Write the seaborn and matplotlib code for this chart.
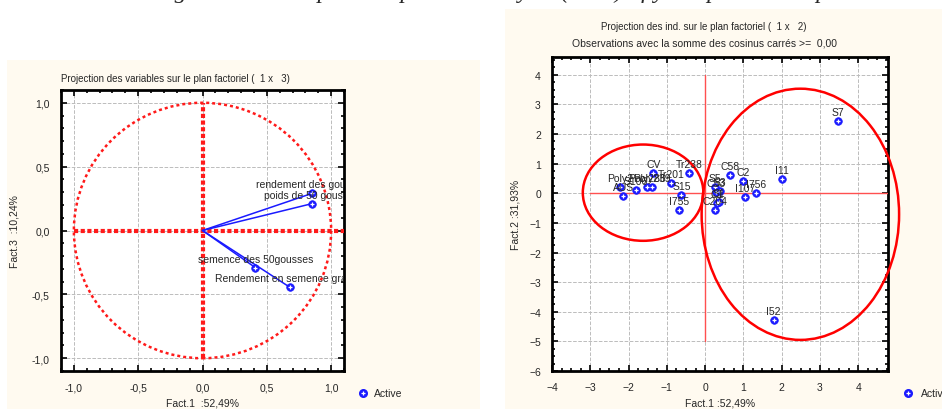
import matplotlib
matplotlib.use("Agg")
import matplotlib.pyplot as plt
import seaborn as sns
from matplotlib.patches import Ellipse, Circle, Rectangle
from matplotlib.ticker import MultipleLocator, FixedLocator, FixedFormatter
from matplotlib.transforms import offset_copy

# Variables projected on factors 1 x 3
var_names = ["rendement des gousses", "poids de 50 gousses",
             "semence des 50gousses", "Rendement en semence graines"]
var_f1 = [0.85, 0.85, 0.41, 0.68]
var_f3 = [0.29, 0.21, -0.29, -0.445]

# Individuals projected on factors 1 x 2
ind_names = ["S7", "I11", "C2", "C58", "I756", "I107", "Tr238", "CV", "Tr201",
             "S15", "I755", "Poly2", "AUS", "S106", "Poly286", "Poly239",
             "S5", "C53", "S3", "S1", "C1", "C204", "I52"]
ind_f1 = [3.48, 2.0, 1.0, 0.64, 1.32, 1.05, -0.41, -1.35, -0.89,
          -0.62, -0.67, -2.22, -2.14, -1.81, -1.52, -1.39,
          0.26, 0.29, 0.39, 0.37, 0.32, 0.27, 1.79]
ind_f2 = [2.44, 0.48, 0.42, 0.62, 0.0, -0.13, 0.69, 0.70, 0.34,
          -0.05, -0.55, 0.2, -0.08, 0.1, 0.2, 0.2,
          0.2, 0.04, 0.06, -0.28, -0.32, -0.58, -4.28]

left_ticks = [-1.0, -0.5, 0.0, 0.5, 1.0]
left_ticklabels = ["-1,0", "-0,5", "0,0", "0,5", "1,0"]
right_xticks = [-4, -3, -2, -1, 0, 1, 2, 3, 4]
right_yticks = [-6, -5, -4, -3, -2, -1, 0, 1, 2, 3, 4]

sns.set_style("white")
plt.rcParams['font.family'] = ['Liberation Sans', 'DejaVu Sans']

W, H = 942, 410
fig = plt.figure(figsize=(W / 100, H / 100), dpi=100)
fig.patch.set_facecolor("white")

cream = "#fffaf0"
fig.add_artist(Rectangle((7 / W, 0), (480 - 7) / W, 1 - 61 / H, transform=fig.transFigure,
                         facecolor=cream, edgecolor="none", zorder=0))
fig.add_artist(Rectangle((505 / W, 0), (W - 505) / W, 1 - 10 / H, transform=fig.transFigure,
                         facecolor=cream, edgecolor="none", zorder=0))

# caption of the page, only its lower part is visible
fig.text(540 / W, 1 + 2 / H,
         "Figure 4 : Principal Component Analysis (PCA) of yield productive parameters",
         ha="center", va="baseline", fontsize=17.5, style="italic", family="Liberation Serif")

ax1 = fig.add_axes([61 / W, 1 - 372 / H, (344 - 61) / W, (372 - 91) / H])
ax2 = fig.add_axes([552 / W, 1 - 372 / H, (888 - 552) / W, (372 - 58) / H])

blue = "#1a1aff"


def style_axes(ax, minor):
    ax.set_facecolor("white")
    for sp in ax.spines.values():
        sp.set_linewidth(2)
        sp.set_color("black")
    ax.xaxis.set_minor_locator(MultipleLocator(minor))
    ax.yaxis.set_minor_locator(MultipleLocator(minor))
    ax.tick_params(which="both", direction="in", top=True, right=True,
                   bottom=True, left=True, color="black")
    ax.tick_params(which="major", length=4, width=1.2, labelsize=7.5, pad=8)
    ax.tick_params(which="minor", length=2.5, width=1.2)
    ax.grid(True, which="major", color="#bcbcbc", linestyle="--", linewidth=0.7)
    ax.set_axisbelow(True)


def plot_points(ax, x, y):
    sns.scatterplot(x=x, y=y, ax=ax, marker="o", s=30, color=blue, edgecolor=blue,
                    linewidth=0.5, zorder=5, legend=False)
    ax.scatter(x, y, marker="+", s=12, color="white", linewidths=0.9, zorder=6)


def label_points(ax, x, y, names):
    tr = offset_copy(ax.transData, fig=fig, x=0, y=4, units="dots")
    for xi, yi, n in zip(x, y, names):
        ax.text(xi, yi, n, transform=tr, ha="center", va="bottom", fontsize=7.5,
                clip_on=True, zorder=7)


def legend_item(ax, xa, ya):
    ax.scatter([xa], [ya], transform=ax.transAxes, marker="o", s=30, color=blue,
               clip_on=False, zorder=5)
    ax.scatter([xa], [ya], transform=ax.transAxes, marker="+", s=12, color="white",
               linewidths=0.9, clip_on=False, zorder=6)
    ax.text(xa + 0.04, ya, "Active", transform=ax.transAxes, fontsize=7.5,
            va="center", ha="left", clip_on=False)


# ---- Left: variables (1 x 3)
style_axes(ax1, 0.1)
ax1.set_xlim(-1.1, 1.1)
ax1.set_ylim(-1.1, 1.1)
ax1.xaxis.set_major_locator(FixedLocator(left_ticks))
ax1.xaxis.set_major_formatter(FixedFormatter(left_ticklabels))
ax1.yaxis.set_major_locator(FixedLocator(left_ticks))
ax1.yaxis.set_major_formatter(FixedFormatter(left_ticklabels))

ax1.add_patch(Circle((0, 0), 1.0, fill=False, color="#ff1a1a", linewidth=1.8,
                     linestyle=(0, (1.2, 1.2)), zorder=3))
ax1.plot([0, 0], [-1, 1], color="#ff1a1a", linewidth=3, linestyle=(0, (1, 0.6)), zorder=3)
ax1.plot([-1, 1.1], [0, 0], color="#ff1a1a", linewidth=3, linestyle=(0, (1, 0.6)), zorder=3)
for xi, yi in zip(var_f1, var_f3):
    ax1.plot([0, xi], [0, yi], color=blue, linewidth=1.1, zorder=4)
plot_points(ax1, var_f1, var_f3)
label_points(ax1, var_f1, var_f3, var_names)

ax1.set_xlabel("Fact.1  :52,49%", fontsize=7.5)
ax1.set_ylabel("Fact.3  :10,24%", fontsize=7.5)
ax1.xaxis.set_label_coords(0.5, -0.093)
ax1.yaxis.set_label_coords(-0.145, 0.5)
fig.text(61 / W, 1 - 79 / H, "Projection des variables sur le plan factoriel (  1 x   3)",
         fontsize=7, ha="left", va="center")
legend_item(ax1, (363 - 61) / 283, (372 - 394) / 281)

# ---- Right: individuals (1 x 2)
style_axes(ax2, 0.25)
ax2.set_xlim(-4, 4.78)
ax2.set_ylim(-6, 4.6)
ax2.xaxis.set_major_locator(FixedLocator(right_xticks))
ax2.yaxis.set_major_locator(FixedLocator(right_yticks))

ax2.plot([0, 0], [-5, 4], color="#ff5050", linewidth=1, zorder=3)
ax2.plot([-3, 4.78], [0, 0], color="#ff5050", linewidth=1, zorder=3)
ax2.add_patch(Ellipse((-1.62, 0.02), 3.15, 3.25, fill=False, color="#ff0000",
                      linewidth=1.8, zorder=3))
ax2.add_patch(Ellipse((2.49, -0.71), 5.16, 8.48, fill=False, color="#ff0000",
                      linewidth=1.8, zorder=3, clip_on=False))
plot_points(ax2, ind_f1, ind_f2)
label_points(ax2, ind_f1, ind_f2, ind_names)

ax2.set_xlabel("Fact.1 :52,49%", fontsize=7.5)
ax2.set_ylabel("Fact.2 :31,93%", fontsize=7.5)
ax2.xaxis.set_label_coords(0.5, -0.084)
ax2.yaxis.set_label_coords(-0.095, 0.5)
fig.text(704 / W, 1 - 27 / H, "Projection des ind. sur le plan factoriel (  1 x   2)",
         fontsize=7, ha="center", va="center")
fig.text(704 / W, 1 - 44 / H, "Observations avec la somme des cosinus carrés >=  0,00",
         fontsize=7.5, ha="center", va="center")
legend_item(ax2, (908 - 552) / 336, (372 - 394) / 314)

fig.savefig("out.png", dpi=100)
